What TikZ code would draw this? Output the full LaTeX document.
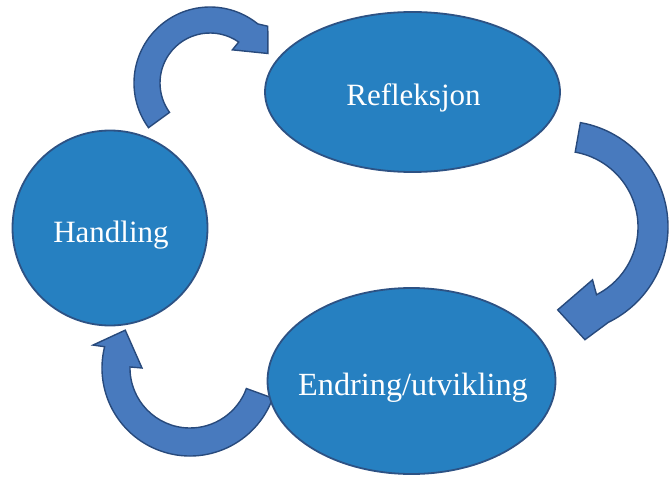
\documentclass[tikz,border=0pt]{standalone}
\usepackage{fontspec}
\setmainfont{Liberation Serif}
\usetikzlibrary{shapes.geometric,backgrounds}
\definecolor{nodefill}{RGB}{38,128,193}
\definecolor{nodeline}{RGB}{45,82,132}
\definecolor{arrowfill}{RGB}{72,122,190}
\definecolor{arrowline}{RGB}{40,74,124}
\tikzset{
  blob/.style={fill=nodefill, draw=nodeline, line width=1.8pt, inner sep=0pt},
  labeltext/.style={text=white, font=\fontsize{31}{36}\selectfont, anchor=base, inner sep=0pt},
  blockarrow/.style={fill=arrowfill, draw=arrowline, line width=1.4pt, line join=miter}
}
\begin{document}
\begin{tikzpicture}[x=1pt,y=1pt]
\useasboundingbox (0,0) rectangle (671,-476);
% nodes
\node[blob, circle, minimum size=195pt] (handling) at (110,-228) {};
\node[blob, ellipse, minimum width=295pt, minimum height=160pt] (refleksjon) at (412.5,-92) {};
\node[blob, ellipse, minimum width=288pt, minimum height=186pt] (endring) at (411.5,-381) {};
\node[labeltext] (handlingtxt) at (111,-242) {Handling};
\node[labeltext] (refleksjontxt) at (413.5,-106) {Refleksjon};
\node[labeltext, font=\fontsize{32.3}{36}\selectfont] (endringtxt) at (413,-395) {Endring/utvikling};
% curved block arrows (behind the shapes)
\begin{scope}[on background layer]
\coordinate (c1) at (210,-83);
\draw[blockarrow, shift={(c1)}]
  (216:76) arc[start angle=216, end angle=51, radius=76]
  -- (44.5:81) -- (27:65) -- (56:40) -- (55:50)
  arc[start angle=55, end angle=216, radius=50] -- cycle;
\coordinate (c2) at (562,-227);
\draw[blockarrow, shift={(c2)}]
  (80:106) arc[start angle=80, end angle=-64, radius=106]
  -- (-78.5:115) -- (-93:83) -- (-60:61) -- (-63:76)
  arc[start angle=-63, end angle=80, radius=76] -- cycle;
\coordinate (c3) at (190,-368);
\draw[blockarrow, shift={(c3)}]
  (-20:88) arc[start angle=-20, end angle=-194, radius=88]
  -- (-193.3:99.7) -- (-210.3:75) -- (-180:48) -- (-181:60)
  arc[start angle=-181, end angle=-20, radius=60] -- cycle;
\end{scope}
\end{tikzpicture}
\end{document}
